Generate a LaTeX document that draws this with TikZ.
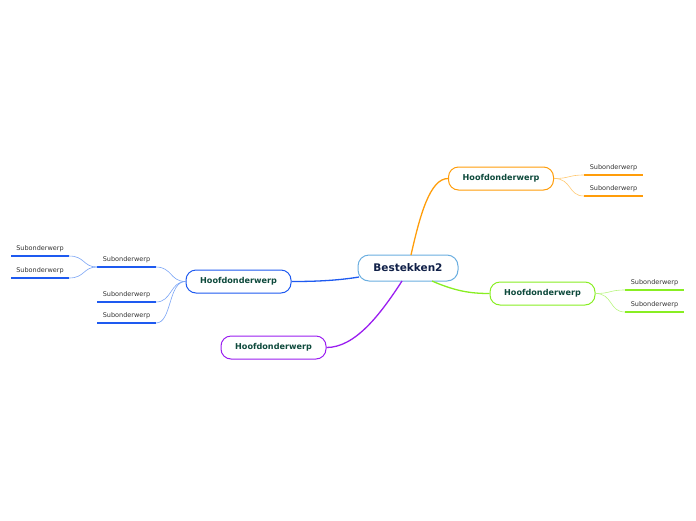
\documentclass[tikz,border=0pt]{standalone}
\usepackage{fontspec}
\setmainfont{DejaVu Sans}
\begin{document}
\begin{tikzpicture}[x=1pt,y=-1pt,
  central/.style={draw=cblue,line width=1pt,fill=white,rounded corners=11pt,minimum width=100pt,minimum height=26pt,inner sep=0pt,font=\fontsize{10.5}{12}\bfseries,text=cnavy},
  topic/.style={draw=#1,line width=1pt,fill=white,rounded corners=10pt,minimum width=105pt,minimum height=23pt,inner sep=0pt,font=\fontsize{8.1}{10}\bfseries,text=tgreen},
  sublabel/.style={font=\fontsize{6.5}{8}\selectfont,text=black!80,inner sep=0pt},
  conn/.style={draw=#1,line width=1.3pt},
  subconn/.style={draw=#1,line width=0.6pt},
  uline/.style={draw=#1,line width=1.6pt}
]
\definecolor{cblue}{HTML}{6AAEE0}
\definecolor{cnavy}{HTML}{102048}
\definecolor{tgreen}{HTML}{0E4A3C}
\definecolor{corange}{HTML}{FF9D0A}
\definecolor{lorange}{HTML}{FFC870}
\definecolor{cgreen}{HTML}{88EE22}
\definecolor{lgreen}{HTML}{B8F580}
\definecolor{cbl}{HTML}{1E5AF0}
\definecolor{lbl}{HTML}{7AA4F5}
\definecolor{cpurple}{HTML}{9A1EF0}
\useasboundingbox (0,0) rectangle (696,520);

\coordinate (cO) at (411,255);
\coordinate (cG) at (432,281);
\coordinate (cB) at (359,277);
\coordinate (cP) at (402,281);

\node[central] (c) at (408,268) {Bestekken2};
\node[topic=corange] (o) at (501,178.5) {Hoofdonderwerp};
\node[topic=cgreen] (g) at (542.5,293.5) {Hoofdonderwerp};
\node[topic=cbl] (b) at (238.5,281.5) {Hoofdonderwerp};
\node[topic=cpurple] (p) at (273.5,347.5) {Hoofdonderwerp};

\draw[conn=corange] (cO) .. controls (420,215) and (430,178.5) .. (o.west);
\draw[conn=cgreen] (cG) .. controls (455,291) and (470,293.5) .. (g.west);
\draw[conn=cbl] (cB) .. controls (335,281) and (310,281.5) .. (b.east);
\draw[conn=cpurple] (cP) .. controls (380,315) and (355,347.5) .. (p.east);

% orange subtopics
\coordinate (o1a) at (584,175); \coordinate (o1b) at (643,175);
\coordinate (o2a) at (584,196); \coordinate (o2b) at (643,196);
\node[sublabel] (os1) at (613.5,167.5) {Subonderwerp};
\node[sublabel] (os2) at (613.5,188.5) {Subonderwerp};
\draw[uline=corange] (o1a) -- (o1b);
\draw[uline=corange] (o2a) -- (o2b);
\draw[subconn=lorange] (o.east) .. controls (570,178.5) and (568,175) .. (o1a);
\draw[subconn=lorange] (o.east) .. controls (572,178.5) and (568,196) .. (o2a);

% green subtopics
\coordinate (g1a) at (625,290); \coordinate (g1b) at (684,290);
\coordinate (g2a) at (625,312); \coordinate (g2b) at (684,312);
\node[sublabel] (gs1) at (654.5,282.5) {Subonderwerp};
\node[sublabel] (gs2) at (654.5,304.5) {Subonderwerp};
\draw[uline=cgreen] (g1a) -- (g1b);
\draw[uline=cgreen] (g2a) -- (g2b);
\draw[subconn=lgreen] (g.east) .. controls (611,293.5) and (609,290) .. (g1a);
\draw[subconn=lgreen] (g.east) .. controls (613,293.5) and (609,312) .. (g2a);

% blue subtopics
\coordinate (b1a) at (97,267); \coordinate (b1b) at (156,267);
\coordinate (b2a) at (97,302); \coordinate (b2b) at (156,302);
\coordinate (b3a) at (97,323); \coordinate (b3b) at (156,323);
\node[sublabel] (bs1) at (126.5,259.5) {Subonderwerp};
\node[sublabel] (bs2) at (126.5,294.5) {Subonderwerp};
\node[sublabel] (bs3) at (126.5,315.5) {Subonderwerp};
\draw[uline=cbl] (b1a) -- (b1b);
\draw[uline=cbl] (b2a) -- (b2b);
\draw[uline=cbl] (b3a) -- (b3b);
\draw[subconn=lbl] (b.west) .. controls (170,281.5) and (172,267) .. (b1b);
\draw[subconn=lbl] (b.west) .. controls (170,281.5) and (172,302) .. (b2b);
\draw[subconn=lbl] (b.west) .. controls (168,281.5) and (172,323) .. (b3b);

% blue sub-subtopics
\coordinate (bb1a) at (11,256); \coordinate (bb1b) at (69,256);
\coordinate (bb2a) at (11,278); \coordinate (bb2b) at (69,278);
\node[sublabel] (bbs1) at (40,248.5) {Subonderwerp};
\node[sublabel] (bbs2) at (40,270.5) {Subonderwerp};
\draw[uline=cbl] (bb1a) -- (bb1b);
\draw[uline=cbl] (bb2a) -- (bb2b);
\draw[subconn=lbl] (b1a) .. controls (83,267) and (85,256) .. (bb1b);
\draw[subconn=lbl] (b1a) .. controls (83,267) and (85,278) .. (bb2b);
\end{tikzpicture}
\end{document}
